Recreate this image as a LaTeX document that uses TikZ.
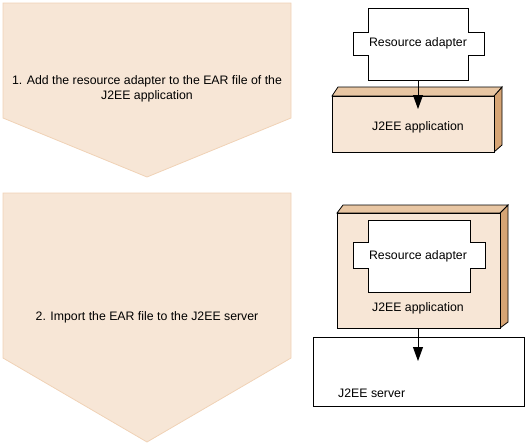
\documentclass[tikz,border=0pt]{standalone}
\usepackage{fontspec}
\setmainfont{Liberation Sans}
\usetikzlibrary{arrows.meta}
\definecolor{peach}{HTML}{F7E6D6}
\definecolor{peachedge}{HTML}{F0D2B6}
\definecolor{tan}{HTML}{D6A474}
\definecolor{toptan}{HTML}{E8C6A3}
\tikzset{
  stepshape/.style={fill=peach,draw=peachedge,line width=0.8pt},
  steptext/.style={font=\fontsize{12.3}{14.5}\selectfont,align=center,inner sep=0pt},
  comp/.style={fill=white,draw=black,line width=0.8pt},
  front/.style={fill=peach,draw=black,line width=0.8pt},
  topface/.style={fill=toptan,draw=black,line width=0.8pt},
  side/.style={fill=tan,draw=black,line width=0.8pt},
  lbl/.style={font=\fontsize{12.3}{14}\selectfont,inner sep=0pt},
  arr/.style={draw=black,line width=0.8pt,-{Triangle[length=14pt,width=10pt]}}
}
\begin{document}
\begin{tikzpicture}[x=1pt,y=-1pt]
\useasboundingbox (0,0) rectangle (528,445);
% step shapes
\draw[stepshape] (3,3) -- (291,3) -- (291,118) -- (147,177) -- (3,118) -- cycle;
\node[steptext] (s1) at (147,89) {1. Add the resource adapter to the EAR file of the\\J2EE application};
\draw[stepshape] (3,193) -- (291,193) -- (291,358) -- (147,442) -- (3,358) -- cycle;
\node[steptext] (s2) at (147,317) {2. Import the EAR file to the J2EE server};

% top: J2EE application box
\draw[side] (494,96) -- (502,87) -- (502,145) -- (494,152) -- cycle;
\draw[topface] (332,96) -- (338,87) -- (502,87) -- (494,96) -- cycle;
\draw[front] (332,96) rectangle (494,152);
\node[lbl] (app1) at (418,127) {J2EE application};
% top: resource adapter
\draw[comp] (368,8) -- (468,8) -- (468,32) -- (484,32) -- (484,55) -- (468,55) -- (468,80)
  -- (368,80) -- (368,55) -- (353,55) -- (353,32) -- (368,32) -- cycle;
\node[lbl] (ra1) at (418,43) {Resource adapter};
\coordinate (ra1b) at (418,80);
\coordinate (t1) at (418,109);
\draw[arr] (ra1b) -- (t1);

% bottom: server
\draw[comp] (313,337) rectangle (524,406);
\node[lbl,anchor=west] (srv) at (338,393) {J2EE server};
% bottom: J2EE application box
\draw[side] (500,213) -- (508,205) -- (508,322) -- (500,328) -- cycle;
\draw[topface] (337,213) -- (343,205) -- (508,205) -- (500,213) -- cycle;
\draw[front] (337,213) rectangle (500,328);
\node[lbl] (app2) at (418,308) {J2EE application};
\draw[comp] (368,220) -- (470,220) -- (470,242) -- (485,242) -- (485,268) -- (470,268) -- (470,292)
  -- (368,292) -- (368,268) -- (353,268) -- (353,242) -- (368,242) -- cycle;
\node[lbl] (ra2) at (418,256) {Resource adapter};
\coordinate (app2b) at (418,328);
\coordinate (t2) at (418,361);
\draw[arr] (app2b) -- (t2);
\end{tikzpicture}
\end{document}
